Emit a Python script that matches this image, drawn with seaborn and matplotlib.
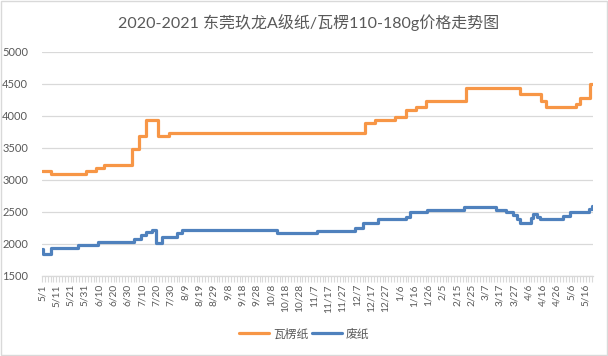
import matplotlib
matplotlib.use("Agg")
import matplotlib.pyplot as plt
from matplotlib.patches import Rectangle
import seaborn as sns
import pandas as pd
import numpy as np

# ---------------- data (change points) ----------------
start_date = "2020-05-01"

corr_dates = ["2020-05-01", "2020-05-07", "2020-06-01", "2020-06-08", "2020-06-13",
              "2020-07-03", "2020-07-08", "2020-07-13", "2020-07-21", "2020-07-29",
              "2020-12-13", "2020-12-20", "2021-01-03", "2021-01-10", "2021-01-17",
              "2021-01-24", "2021-02-21", "2021-03-31", "2021-04-15", "2021-04-18",
              "2021-05-09", "2021-05-12", "2021-05-19", "2021-05-21"]
corr_values = [3130, 3080, 3130, 3180, 3230,
               3480, 3680, 3930, 3680, 3730,
               3880, 3930, 3980, 4080, 4130,
               4230, 4430, 4330, 4230, 4130,
               4180, 4280, 4490, 4490]

waste_dates = ["2020-05-01", "2020-05-02", "2020-05-07", "2020-05-26", "2020-06-09",
               "2020-07-04", "2020-07-09", "2020-07-13", "2020-07-17", "2020-07-20",
               "2020-07-24", "2020-08-03", "2020-08-07", "2020-10-12", "2020-11-09",
               "2020-12-06", "2020-12-11", "2020-12-22", "2021-01-10", "2021-01-13",
               "2021-01-25", "2021-02-20", "2021-03-14", "2021-03-21", "2021-03-26",
               "2021-03-29", "2021-03-31", "2021-04-08", "2021-04-09", "2021-04-12",
               "2021-04-14", "2021-04-30", "2021-05-05", "2021-05-18", "2021-05-20",
               "2021-05-21"]
waste_values = [1910, 1840, 1930, 1980, 2030,
                2080, 2130, 2180, 2220, 2010,
                2110, 2170, 2220, 2170, 2200,
                2250, 2330, 2380, 2420, 2490,
                2530, 2580, 2530, 2490, 2450,
                2380, 2320, 2400, 2460, 2420,
                2380, 2430, 2490, 2540, 2590,
                2590]

tick_labels = ["5/1", "5/11", "5/21", "5/31", "6/10", "6/20", "6/30", "7/10", "7/20",
               "7/30", "8/9", "8/19", "8/29", "9/8", "9/18", "9/28", "10/8", "10/18",
               "10/28", "11/7", "11/17", "11/27", "12/7", "12/17", "12/27", "1/6",
               "1/16", "1/26", "2/5", "2/15", "2/25", "3/7", "3/17", "3/27", "4/6",
               "4/16", "4/26", "5/6", "5/16"]

series_names = ["瓦楞纸", "废纸"]
title_text = "2020-2021 东莞玖龙A级纸/瓦楞110-180g价格走势图"

# ---------------- styling ----------------
sns.set_theme(style="white")
plt.rcParams["font.family"] = ["Lato", "Noto Sans CJK SC", "DejaVu Sans"]

ORANGE = "#F79646"
BLUE = "#4F81BD"
GRID = "#D9D9D9"
TEXT = "#595959"

t0 = pd.Timestamp(start_date)
corr_df = pd.DataFrame({"day": (pd.to_datetime(corr_dates) - t0).days, "price": corr_values})
waste_df = pd.DataFrame({"day": (pd.to_datetime(waste_dates) - t0).days, "price": waste_values})

fig = plt.figure(figsize=(6.08, 3.56), dpi=100)
ax = fig.add_axes([42 / 608, 1 - 275.7 / 356, (593 - 42) / 608, (275.7 - 51.5) / 356])

sns.lineplot(data=corr_df, x="day", y="price", ax=ax, color=ORANGE, linewidth=2.3,
             drawstyle="steps-post", label=series_names[0])
sns.lineplot(data=waste_df, x="day", y="price", ax=ax, color=BLUE, linewidth=2.3,
             drawstyle="steps-post", label=series_names[1])

last_day = int(corr_df["day"].max())
ax.set_xlim(0, last_day)
ax.set_ylim(1500, 5000)
ax.set_yticks(np.arange(1500, 5001, 500))
ax.set_xticks(np.arange(0, 10 * len(tick_labels), 10))
ax.set_xticklabels(tick_labels, rotation=90)
ax.set_xticks(np.arange(0, last_day + 1, 2), minor=True)

ax.grid(axis="y", color=GRID, linewidth=0.9)
ax.set_axisbelow(True)
for s in ["top", "right", "left"]:
    ax.spines[s].set_visible(False)
ax.spines["bottom"].set_color(GRID)
ax.spines["bottom"].set_linewidth(0.9)

ax.tick_params(axis="y", length=0, pad=10, labelsize=8, labelcolor=TEXT)
ax.tick_params(axis="x", which="both", bottom=True, direction="out", length=4,
               color=GRID, width=0.8, labelsize=7.3, labelcolor=TEXT, pad=2)
ax.set_xlabel("")
ax.set_ylabel("")

fig.text(0.508, 1 - 22 / 356, title_text, ha="center", va="center",
         fontsize=11.5, color=TEXT)

leg = ax.legend(loc="center", bbox_to_anchor=(0.5, 1 - 334 / 356),
                bbox_transform=fig.transFigure, ncol=2, frameon=False,
                fontsize=8.5, handlelength=2.6, columnspacing=0.3, handletextpad=0.3,
                labelcolor=TEXT)

fig.patches.append(Rectangle((0.001, 0.002), 0.997, 0.996, transform=fig.transFigure,
                             fill=False, edgecolor=GRID, linewidth=1))

fig.savefig("out.png", dpi=100, facecolor="white")
